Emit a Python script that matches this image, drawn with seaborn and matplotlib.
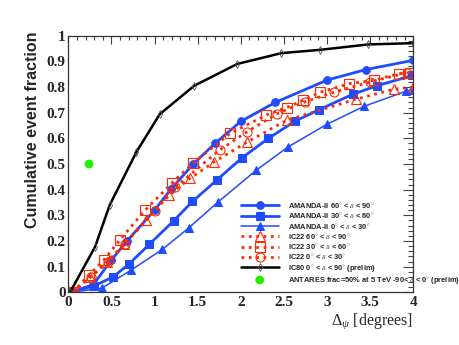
import matplotlib
matplotlib.use("Agg")
import matplotlib.pyplot as plt
import seaborn as sns
import numpy as np
from matplotlib.ticker import MultipleLocator

# ---------------- data ----------------
am60_x = [0.02, 0.29, 0.50, 0.68, 1.00, 1.19, 1.45, 1.70, 2.00, 2.40, 3.00, 3.45, 4.00]
am60_y = [0.00, 0.030, 0.126, 0.200, 0.320, 0.402, 0.500, 0.580, 0.666, 0.740, 0.827, 0.868, 0.904]

am30_x = [0.02, 0.30, 0.52, 0.70, 0.94, 1.22, 1.44, 1.72, 2.01, 2.32, 2.63, 2.91, 3.30, 3.58, 3.99]
am30_y = [0.00, 0.025, 0.060, 0.109, 0.187, 0.278, 0.354, 0.437, 0.523, 0.600, 0.667, 0.712, 0.772, 0.805, 0.845]

am0_x = [0.02, 0.39, 0.73, 1.09, 1.40, 1.74, 2.18, 2.55, 3.00, 3.43, 3.92, 4.00]
am0_y = [0.00, 0.016, 0.087, 0.167, 0.252, 0.353, 0.476, 0.567, 0.655, 0.725, 0.784, 0.790]

ic60_x = [0.05, 0.25, 0.45, 0.65, 0.90, 1.17, 1.41, 1.69, 2.07, 2.53, 3.33, 3.78, 4.00]
ic60_y = [0.00, 0.058, 0.118, 0.188, 0.280, 0.379, 0.444, 0.508, 0.585, 0.670, 0.752, 0.792, 0.800]

ic30_x = [0.05, 0.24, 0.41, 0.60, 0.89, 1.20, 1.45, 1.88, 2.29, 2.53, 2.72, 2.92, 3.26, 3.54, 3.83, 3.96]
ic30_y = [0.00, 0.067, 0.125, 0.205, 0.320, 0.425, 0.505, 0.620, 0.690, 0.720, 0.748, 0.780, 0.813, 0.826, 0.852, 0.856]

ic0_x = [0.05, 0.26, 0.46, 0.66, 1.00, 1.24, 1.76, 2.07, 2.42, 2.74, 3.08, 3.50, 3.93]
ic0_y = [0.00, 0.060, 0.118, 0.190, 0.318, 0.410, 0.556, 0.625, 0.696, 0.742, 0.780, 0.820, 0.856]

ic80_x = [0.02, 0.31, 0.48, 0.79, 1.06, 1.46, 1.96, 2.47, 2.92, 3.48, 4.00]
ic80_y = [0.00, 0.177, 0.340, 0.547, 0.694, 0.805, 0.890, 0.932, 0.945, 0.966, 0.971]

antares_x = [0.24]
antares_y = [0.50]

labels = [
    r"AMANDA-II 60$^{\circ}$ < $\delta$ < 90$^{\circ}$",
    r"AMANDA-II 30$^{\circ}$ < $\delta$ < 60$^{\circ}$",
    r"AMANDA-II 0$^{\circ}$ < $\delta$ < 30$^{\circ}$",
    r"IC22 60$^{\circ}$ < $\delta$ < 90$^{\circ}$",
    r"IC22 30$^{\circ}$ < $\delta$ < 60$^{\circ}$",
    r"IC22 0$^{\circ}$ < $\delta$ < 30$^{\circ}$",
    r"IC80 0$^{\circ}$ < $\delta$ < 90$^{\circ}$ (prelim)",
    r"ANTARES frac=50% at 5 TeV -90< $\delta$ < 0$^{\circ}$ (prelim)",
]
x_ticks = [0, 0.5, 1, 1.5, 2, 2.5, 3, 3.5, 4]
y_ticks = [0, 0.1, 0.2, 0.3, 0.4, 0.5, 0.6, 0.7, 0.8, 0.9, 1]
x_tick_labels = ["0", "0.5", "1", "1.5", "2", "2.5", "3", "3.5", "4"]
y_tick_labels = ["0", "0.1", "0.2", "0.3", "0.4", "0.5", "0.6", "0.7", "0.8", "0.9", "1"]

# ---------------- style ----------------
sns.set_style("white")
plt.rcParams["font.family"] = ["Liberation Serif", "DejaVu Serif"]
plt.rcParams["mathtext.fontset"] = "custom"
plt.rcParams["mathtext.rm"] = "Liberation Serif"
plt.rcParams["mathtext.it"] = "Liberation Serif:italic"

BLUE = "#1f4cff"
RED = "#ff2a00"

fig = plt.figure(figsize=(4.6, 3.45), dpi=100)
ax = fig.add_axes([68.3 / 460, 1 - 292.3 / 345, (413.3 - 68.3) / 460, (292.3 - 35.7) / 345])

common = dict(ax=ax, sort=False, estimator=None)

sns.lineplot(x=am60_x, y=am60_y, color=BLUE, lw=2.0, marker="o", ms=5.5,
             markeredgecolor=BLUE, markerfacecolor=BLUE, label=labels[0], **common)
sns.lineplot(x=am30_x, y=am30_y, color=BLUE, lw=2.0, marker="s", ms=6,
             markeredgecolor=BLUE, markerfacecolor=BLUE, label=labels[1], **common)
sns.lineplot(x=am0_x, y=am0_y, color=BLUE, lw=1.1, marker="^", ms=5.5,
             markeredgecolor=BLUE, markerfacecolor=BLUE, label=labels[2], **common)
sns.lineplot(x=ic60_x, y=ic60_y, color=RED, lw=2.0, linestyle=":", marker="^", ms=6.5,
             markeredgecolor=RED, markerfacecolor="none", markeredgewidth=0.8,
             label=labels[3], **common)
sns.lineplot(x=ic30_x, y=ic30_y, color=RED, lw=2.0, linestyle=":", marker="s", ms=6.5,
             markeredgecolor=RED, markerfacecolor="none", markeredgewidth=0.8,
             label=labels[4], **common)
sns.lineplot(x=ic0_x, y=ic0_y, color=RED, lw=2.0, linestyle=":", marker="o", ms=6.5,
             markeredgecolor=RED, markerfacecolor="none", markeredgewidth=0.8,
             label=labels[5], **common)
sns.lineplot(x=ic80_x, y=ic80_y, color="black", lw=1.8, marker="d", ms=4,
             markeredgecolor="#555555", markerfacecolor="none", markeredgewidth=0.6,
             label=labels[6], **common)
sns.scatterplot(x=antares_x, y=antares_y, color="#22ee00", s=40, edgecolor="none",
                label=labels[7], ax=ax, zorder=5)

# ---------------- axes ----------------
ax.set_xlim(0, 4)
ax.set_ylim(0, 1)
ax.set_xticks(x_ticks)
ax.set_xticklabels(x_tick_labels)
ax.set_yticks(y_ticks)
ax.set_yticklabels(y_tick_labels)
ax.xaxis.set_minor_locator(MultipleLocator(0.1))
ax.yaxis.set_minor_locator(MultipleLocator(0.02))
ax.tick_params(axis="both", which="both", direction="in", top=True, right=True,
               color="#444444", width=0.8)
ax.tick_params(axis="x", which="major", length=6)
ax.tick_params(axis="x", which="minor", length=3)
ax.tick_params(axis="y", which="major", length=7)
ax.tick_params(axis="y", which="minor", length=3.5)
ax.tick_params(axis="x", which="major", pad=3)
ax.tick_params(axis="y", which="major", pad=2)
for lab in ax.get_xticklabels() + ax.get_yticklabels():
    lab.set_fontweight("bold")
    lab.set_fontsize(11)
    lab.set_family("Liberation Serif")
for sp in ax.spines.values():
    sp.set_color("#333333")
    sp.set_linewidth(0.9)

fig.text(33 / 460, 1 - 130 / 345, "Cumulative event fraction", rotation=90,
         ha="center", va="center", fontsize=11.5, fontweight="bold",
         family="Liberation Sans")
fig.text(413 / 460, 1 - 321 / 345, r"$\Delta_{\psi}$ [degrees]", ha="right",
         va="center", fontsize=11.5, family="Liberation Serif")

leg = ax.legend(loc="lower left", bbox_to_anchor=(241 / 460, 1 - 286 / 345),
                bbox_transform=fig.transFigure, frameon=False,
                prop={"family": "Liberation Sans", "weight": "bold", "size": 5.4},
                handlelength=5.0, handletextpad=1.2, labelspacing=0.17,
                borderpad=0, borderaxespad=0, markerscale=1.0)

fig.savefig("out.png", dpi=100)
